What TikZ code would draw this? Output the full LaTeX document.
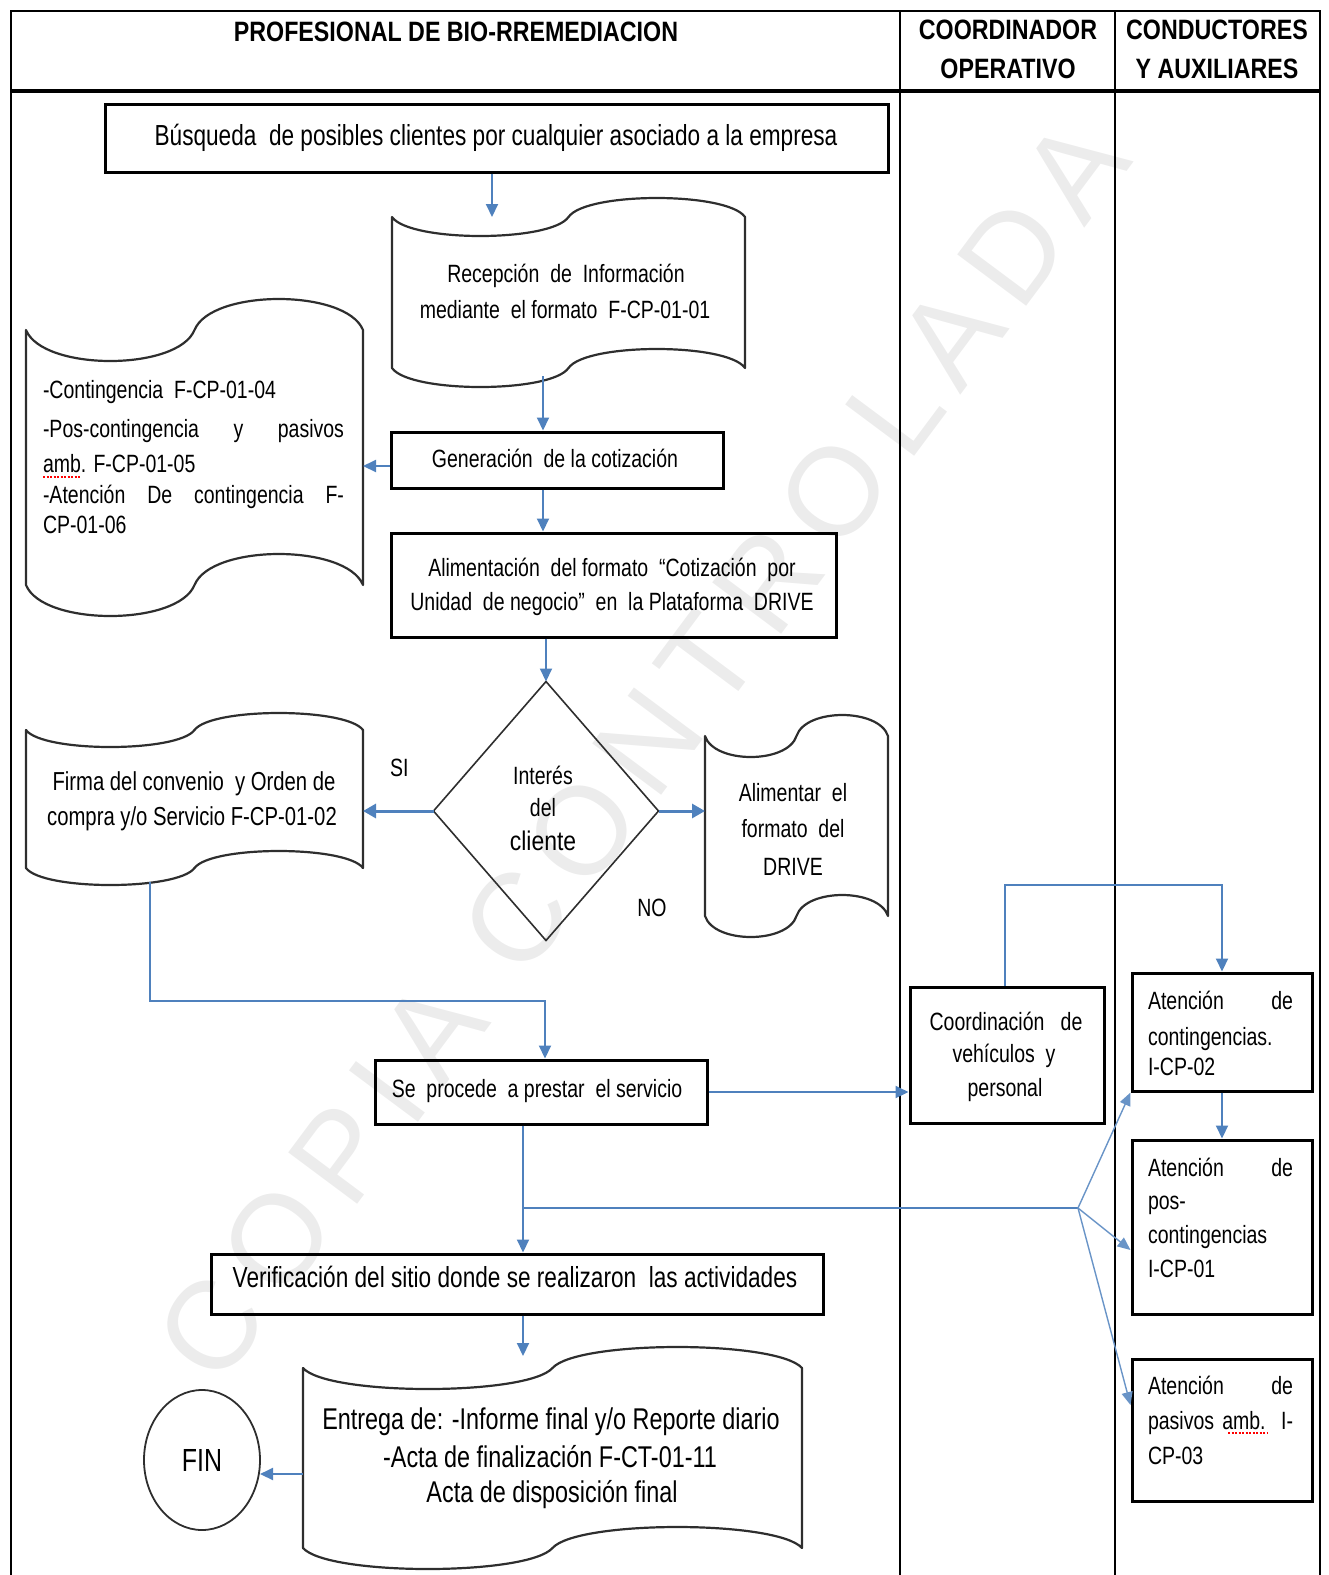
\documentclass[tikz,border=0pt]{standalone}
\usepackage{fontspec}
\setmainfont{Liberation Sans}
\newfontfamily\fontA{Liberation Sans}[FakeStretch=0.78]
\newfontfamily\fontB{Liberation Sans}[FakeStretch=0.85]
\newfontfamily\fontH{Liberation Sans}[FakeStretch=0.83]
\newfontfamily\fontW{Liberation Sans}[LetterSpace=13.7]
\usetikzlibrary{arrows.meta,shapes.geometric,calc}
\definecolor{flow}{HTML}{4F81BD}
\definecolor{wmgray}{HTML}{ECECEC}
\definecolor{tapec}{HTML}{2E2E2E}
\newcommand\tapeshape[2]{%
  \draw[tapeline]
   (#1.north west)
   .. controls ($(#1.north west)!0.05!(#1.north east)+(0,{4*#2/3})$) and ($(#1.north west)!0.45!(#1.north east)+(0,{4*#2/3})$)
   .. ($(#1.north west)!0.5!(#1.north east)$)
   .. controls ($(#1.north west)!0.55!(#1.north east)+(0,{-4*#2/3})$) and ($(#1.north west)!0.95!(#1.north east)+(0,{-4*#2/3})$)
   .. (#1.north east) -- (#1.south east)
   .. controls ($(#1.south west)!0.95!(#1.south east)+(0,{-4*#2/3})$) and ($(#1.south west)!0.55!(#1.south east)+(0,{-4*#2/3})$)
   .. ($(#1.south west)!0.5!(#1.south east)$)
   .. controls ($(#1.south west)!0.45!(#1.south east)+(0,{4*#2/3})$) and ($(#1.south west)!0.05!(#1.south east)+(0,{4*#2/3})$)
   .. (#1.south west) -- cycle;}
\tikzset{
 procbox/.style={draw=black, line width=3pt, inner sep=0pt, outer sep=1.5pt},
 tapebox/.style={inner sep=0pt, outer sep=0pt},
 tapeline/.style={draw=tapec, line width=2.2pt, line join=round},
 tx/.style={inner sep=0pt, outer sep=0pt, anchor=base, font=\fontA\fontsize{25}{30}\selectfont},
 txl/.style={tx, anchor=base west},
 hd/.style={tx, font=\fontH\bfseries\fontsize{28}{30}\selectfont},
 flowl/.style={draw=flow, line width=2pt},
 arr/.style={flowl, -{Triangle[length=13pt,width=12pt]}},
 thickarr/.style={draw=flow, line width=3pt, -{Triangle[length=13pt,width=14pt]}},
 thinarr/.style={draw=flow!85, line width=1.4pt, -{Triangle[length=13pt,width=11pt]}},
 gridl/.style={draw=black, line width=2pt},
 squig/.style={draw=red, line width=1.3pt, dash pattern=on 2pt off 1.5pt},
}
\begin{document}
\begin{tikzpicture}[x=1pt,y=-1pt]
\useasboundingbox (0,0) rectangle (1329,1575);
% watermark
\node[text=wmgray, font=\fontW\fontsize{125}{125}\selectfont, rotate=53.3, inner sep=0pt] (wm) at (642,750) {COPIA CONTROLADA};
% table
\draw[gridl] (11,1580) -- (11,11) -- (1320,11) -- (1320,1580);
\draw[draw=black, line width=3.2pt] (11,91) -- (1320,91);
\draw[gridl, line width=1.8pt] (900,11) -- (900,1580) (1115,11) -- (1115,1580);
% headers
\node[hd] (h1) at (456,41) {PROFESIONAL DE BIO-RREMEDIACION};
\node[hd] (h2a) at (1008,39) {COORDINADOR};
\node[hd] (h2b) at (1008,78) {OPERATIVO};
\node[hd] (h3a) at (1217,39) {CONDUCTORES};
\node[hd] (h3b) at (1217,78) {Y AUXILIARES};
% process boxes
\node[procbox, minimum width=783pt, minimum height=68pt] (busq) at (496.5,138) {};
\node[procbox, minimum width=332pt, minimum height=56pt] (gen) at (557,460) {};
\node[procbox, minimum width=445pt, minimum height=104pt] (alim) at (613.5,585) {};
\node[procbox, minimum width=332pt, minimum height=64pt] (proc) at (541,1092) {};
\node[procbox, minimum width=194pt, minimum height=136pt] (coord) at (1007,1055) {};
\node[procbox, minimum width=180pt, minimum height=118pt] (at1) at (1222,1032) {};
\node[procbox, minimum width=180pt, minimum height=174pt] (at2) at (1222,1227) {};
\node[procbox, minimum width=180pt, minimum height=142pt] (at3) at (1222,1430) {};
\node[procbox, minimum width=612pt, minimum height=60pt] (verif) at (517,1284) {};
% punched tapes
\node[tapebox, minimum width=353pt, minimum height=151pt] (recep) at (568.5,292.5) {};
\node[tapebox, minimum width=337pt, minimum height=255pt] (cont) at (194.5,457.5) {};
\node[tapebox, minimum width=337pt, minimum height=138pt] (firma) at (194.5,799) {};
\node[tapebox, minimum width=183pt, minimum height=180pt] (alimd) at (796.5,826) {};
\node[tapebox, minimum width=499pt, minimum height=180pt] (entrega) at (552.5,1458) {};
\tapeshape{recep}{19}
\tapeshape{cont}{31}
\tapeshape{firma}{17}
\tapeshape{alimd}{21}
\tapeshape{entrega}{21}
% decision and end
\node[draw=tapec, line width=1.6pt, diamond, minimum width=225pt, minimum height=259pt, inner sep=0pt, outer sep=0pt] (dia) at (546,811) {};
\node[draw=tapec, line width=1.8pt, ellipse, minimum width=116pt, minimum height=140pt, inner sep=0pt, outer sep=0pt, font=\fontA\fontsize{32}{34}\selectfont] (fin) at (202,1460) {FIN};
% texts
\node[tx, font=\fontA\fontsize{29}{30}\selectfont] (t1) at (496,145) {Búsqueda\ \ de posibles clientes por cualquier asociado a la empresa};
\node[tx] (t2a) at (566,282) {Recepción\ \ de\ \ Información};
\node[tx] (t2b) at (565,318) {mediante\ \ el formato\ \ F-CP-01-01};
\node[tx] (t3) at (555,467) {Generación\ \ de la cotización};
\node[tx] (t4a) at (612,576) {Alimentación\ \ del formato\ \ “Cotización\ \ por};
\node[tx] (t4b) at (612,610) {Unidad\ \ de negocio”\ \ en\ \ la Plataforma\ \ DRIVE};
\node[txl] (c1) at (43,398) {-Contingencia\ \ F-CP-01-04};
\node[txl] (c2) at (43,437) {\makebox[301pt][s]{-Pos-contingencia y pasivos}};
\node[txl] (c3) at (43,472) {amb. F-CP-01-05};
\node[txl] (c4) at (43,503) {\makebox[301pt][s]{-Atención De contingencia F-}};
\node[txl] (c5) at (43,533) {CP-01-06};
\draw[squig] ($(c3.base west)+(0,5)$) -- ++(38,0);
\node[tx] (d1) at (543,784) {Interés};
\node[tx] (d2) at (543,816) {del};
\node[tx, font=\fontB\fontsize{27}{30}\selectfont] (d3) at (543,850) {cliente};
\node[txl] (si) at (390,776) {SI};
\node[tx] (no) at (652,916) {NO};
\node[tx, font=\fontA\fontsize{26}{30}\selectfont] (f1a) at (194,790) {Firma del convenio\ \ y Orden de};
\node[tx, font=\fontA\fontsize{26}{30}\selectfont] (f1b) at (192,825) {compra y/o Servicio F-CP-01-02};
\node[tx] (a1) at (793,801) {Alimentar\ \ el};
\node[tx] (a2) at (793,837) {formato\ \ del};
\node[tx] (a3) at (793,875) {DRIVE};
\node[tx] (s1) at (537,1097) {Se\ \ procede\ \ a prestar\ \ el servicio};
\node[tx] (k1) at (1006,1030) {Coordinación\ \ \ de};
\node[tx] (k2) at (1004,1062) {vehículos\ \ y};
\node[tx] (k3) at (1005,1096) {personal};
\node[txl] (e1a) at (1148,1009) {\makebox[145pt][s]{Atención de}};
\node[txl] (e1b) at (1148,1045) {contingencias.};
\node[txl] (e1c) at (1148,1075) {I-CP-02};
\node[txl] (e2a) at (1148,1176) {\makebox[145pt][s]{Atención de}};
\node[txl] (e2b) at (1148,1209) {pos-};
\node[txl] (e2c) at (1148,1243) {contingencias};
\node[txl] (e2d) at (1148,1277) {I-CP-01};
\node[txl] (e3a) at (1148,1394) {\makebox[145pt][s]{Atención de}};
\node[txl] (e3b) at (1148,1429) {\makebox[145pt][s]{pasivos amb. I-}};
\node[txl] (e3c) at (1148,1464) {CP-03};
\draw[squig] (1228,1433) -- (1268,1433);
\node[tx, font=\fontA\fontsize{29}{30}\selectfont] (vt) at (515,1287) {Verificación del sitio donde se realizaron\ \ las actividades};
\node[tx, font=\fontA\fontsize{30}{32}\selectfont] (g1) at (551,1429) {Entrega de: -Informe final y/o Reporte diario};
\node[tx, font=\fontA\fontsize{30}{32}\selectfont] (g2) at (550,1467) {-Acta de finalización F-CT-01-11};
\node[tx, font=\fontA\fontsize{30}{32}\selectfont] (g3) at (552,1502) {Acta de disposición final};
% connectors
\coordinate (b1) at ($(busq.south)+(-4.5,0)$);
\draw[arr] (b1) -- (b1 |- recep.north);
\draw[arr] ($(gen.north |- recep.south)+(-14,8)$) -- ($(gen.north)+(-14,0)$);
\draw[arr] ($(gen.west)+(0,6)$) -- ($(cont.east |- gen.west)+(0,6)$);
\coordinate (g0) at ($(gen.south)+(-14,0)$);
\draw[arr] (g0) -- (g0 |- alim.north);
\draw[arr] (dia.north |- alim.south) -- (dia.north);
\draw[thickarr] (dia.west) -- (firma.east |- dia.west);
\draw[thickarr] (dia.east) -- (alimd.west |- dia.east);
\coordinate (fm) at ($(firma.south west)+(124,14)$);
\coordinate (pn) at ($(proc.north)+(4,0)$);
\draw[arr] (fm) |- ($(pn)+(0,-58)$) -- (pn);
\draw[arr] (proc.east) -- (coord.west |- proc.east);
\coordinate (c0) at ($(coord.north)+(-2,0)$);
\draw[arr] (c0) |- ($(at1.north)+(0,-87)$) -- (at1.north);
\draw[arr] (at1.south) -- (at2.north);
\coordinate (p2) at ($(proc.south)+(-18,0)$);
\coordinate (br) at (1078,1208);
\draw[arr] (p2) -- (p2 |- verif.north);
\draw[flowl] (p2 |- br) -- (br);
\draw[thinarr] (br) -- (at1.south west);
\draw[thinarr] (br) -- ($(at2.west)+(0,23)$);
\draw[thinarr] (br) -- ($(at3.west)+(0,-25)$);
\coordinate (v1) at ($(verif.south)+(6,0)$);
\draw[arr] (v1) -- ($(v1 |- entrega.north)+(0,-12)$);
\draw[arr] ($(entrega.west)+(0,16)$) -- ($(fin.east |- entrega.west)+(0,16)$);
\end{tikzpicture}
\end{document}
